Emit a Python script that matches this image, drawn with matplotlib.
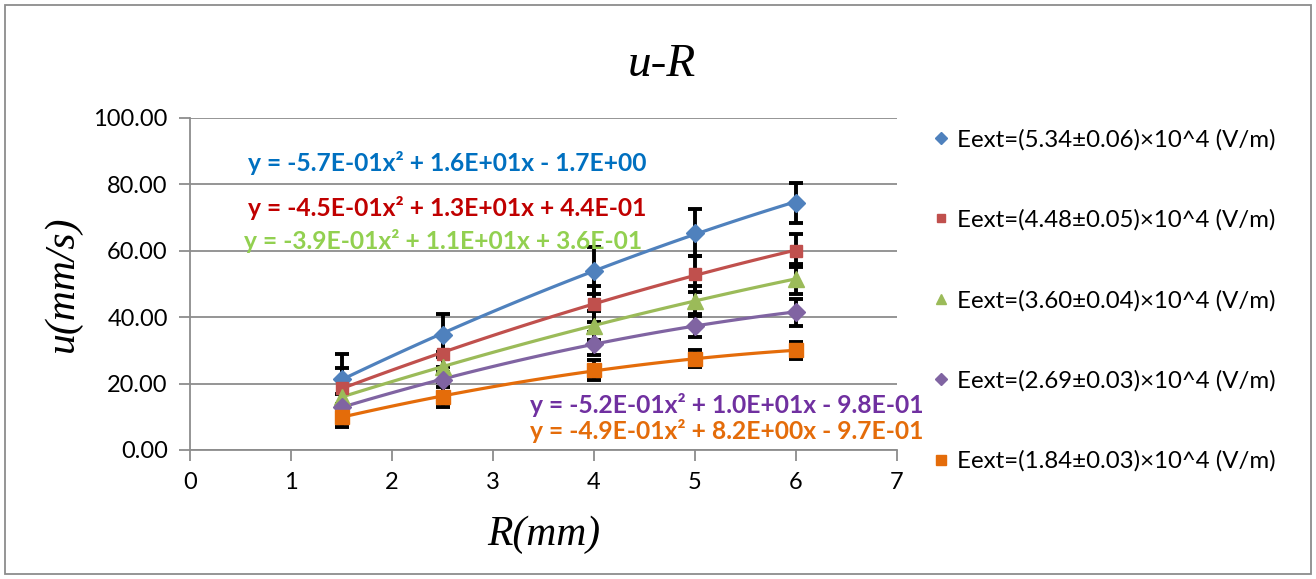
import numpy as np
import matplotlib.pyplot as plt
from matplotlib.patches import Rectangle

# radius R (mm)
R = [1.5, 2.5, 4, 5, 6]

# velocity u (mm/s) per field strength
u_534 = [21.5, 34.5, 54.0, 65.5, 74.5]
u_448 = [18.7, 29.0, 44.0, 53.0, 60.0]
u_360 = [16.0, 25.0, 37.5, 45.0, 51.5]
u_269 = [13.0, 21.0, 32.0, 37.5, 41.5]
u_184 = [10.0, 16.0, 24.0, 27.5, 30.0]

# error bars (mm/s)
e_534 = [7.5, 6.5, 7.0, 7.0, 6.0]
e_448 = [6.0, 5.5, 5.5, 5.5, 5.0]
e_360 = [5.0, 4.5, 4.5, 4.5, 4.5]
e_269 = [4.0, 4.0, 3.5, 3.5, 4.0]
e_184 = [3.0, 3.0, 3.0, 2.5, 2.5]

labels = ['Eext=(5.34±0.06)×10^4 (V/m)', 'Eext=(4.48±0.05)×10^4 (V/m)',
          'Eext=(3.60±0.04)×10^4 (V/m)', 'Eext=(2.69±0.03)×10^4 (V/m)',
          'Eext=(1.84±0.03)×10^4 (V/m)']
equations = ['y = -5.7E-01x² + 1.6E+01x - 1.7E+00',
             'y = -4.5E-01x² + 1.3E+01x + 4.4E-01',
             'y = -3.9E-01x² + 1.1E+01x + 3.6E-01',
             'y = -5.2E-01x² + 1.0E+01x - 9.8E-01',
             'y = -4.9E-01x² + 8.2E+00x - 9.7E-01']

series = [u_534, u_448, u_360, u_269, u_184]
errors = [e_534, e_448, e_360, e_269, e_184]
colors = ['#4F81BD', '#C0504D', '#9BBB59', '#8064A2', '#E46C0A']
eq_colors = ['#0070C0', '#C00000', '#92D050', '#7030A0', '#E46C0A']
markers = ['D', 's', '^', 'D', 's']
msizes = [9, 9, 11, 9, 10]
eq_pos = [(0.57, 86.5), (0.57, 73.0), (0.53, 63.0), (3.37, 13.5), (3.37, 5.7)]

plt.rcParams['font.family'] = ['Lato', 'DejaVu Sans']

fig = plt.figure(figsize=(13.16, 5.79), dpi=100)
ax = fig.add_axes([190/1316, 1-450/579, (897-190)/1316, (450-118)/579])

xs = np.linspace(1.5, 6, 100)
for i in range(5):
    ax.errorbar(R, series[i], yerr=errors[i], fmt='none', ecolor='black',
                elinewidth=2.8, capsize=5, capthick=2.8, zorder=2)
    coef = np.polyfit(R, series[i], 2)
    ax.plot(xs, np.polyval(coef, xs), color=colors[i], lw=2.3, zorder=3)
    ax.plot(R, series[i], linestyle='none', marker=markers[i], ms=msizes[i],
            color=colors[i], label=labels[i], zorder=4)
    ax.text(eq_pos[i][0], eq_pos[i][1], equations[i], color=eq_colors[i],
            fontsize=17.7, fontweight='bold', va='center', ha='left', zorder=5)

ax.set_xlim(0, 7)
ax.set_ylim(0, 100)
ax.set_xticks(range(8))
ax.set_yticks(np.arange(0, 101, 20))
ax.set_yticklabels(['%.2f' % v for v in np.arange(0, 101, 20)])
ax.yaxis.grid(True, color='#8C8C8C', lw=1.3)
ax.set_axisbelow(True)
for s in ['top', 'right']:
    ax.spines[s].set_visible(False)
for s in ['left', 'bottom']:
    ax.spines[s].set_color('#8C8C8C')
    ax.spines[s].set_linewidth(1.3)
ax.tick_params(direction='out', length=8, width=1.3, color='#8C8C8C',
               labelsize=17, pad=8)

fig.text(662/1316, 1-76/579, 'u-R', fontsize=34, family='Liberation Serif',
         style='italic', ha='center', va='baseline')
ax.set_xlabel('R(mm)', fontsize=30, family='Liberation Serif', style='italic', labelpad=16)
ax.set_ylabel('u(mm/s)', fontsize=30, family='Liberation Serif', style='italic', labelpad=8)

leg = ax.legend(loc='upper left', bbox_to_anchor=(1.021, 1.032), frameon=False,
                fontsize=17.3, labelspacing=2.45, handlelength=0.6, handletextpad=0.4,
                markerscale=0.65)

fig.patches.append(Rectangle((5/1316, 5/579), 1306/1316, 569/579, transform=fig.transFigure,
                             fill=False, edgecolor='#8C8C8C', lw=1.3))

fig.savefig('out.png', dpi=100)
